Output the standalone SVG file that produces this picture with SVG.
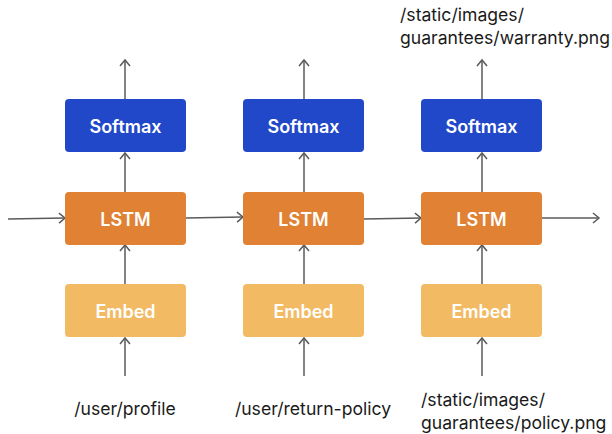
<svg xmlns="http://www.w3.org/2000/svg" width="612" height="434" viewBox="0 0 612 434">
<defs>
<marker id="ah" markerWidth="12" markerHeight="12" refX="10" refY="6" orient="auto" markerUnits="userSpaceOnUse">
<path d="M4,1 L10,6 L4,11" fill="none" stroke="#5a5a5a" stroke-width="1.5"/>
</marker>
<style>
.box{stroke:none}
.sm{fill:#2148c9}
.ls{fill:#e08133}
.em{fill:#f2ba63}
.lbl{font-family:Inter,"Liberation Sans",sans-serif;font-size:18px;font-weight:600;fill:#ffffff;text-anchor:middle;dominant-baseline:central}
.txt{font-family:Inter,"Liberation Sans",sans-serif;font-size:17.6px;fill:#1a1a1a}
.c{fill:none;stroke:#5a5a5a;stroke-width:1.5;marker-end:url(#ah)}
</style>
</defs>
<g id="connectors">
<line class="c" x1="125" y1="99" x2="125" y2="60"/>
<line class="c" x1="304" y1="99" x2="304" y2="60"/>
<line class="c" x1="482" y1="99" x2="482" y2="60"/>
<line class="c" x1="125" y1="192" x2="125" y2="153"/>
<line class="c" x1="304" y1="192" x2="304" y2="153"/>
<line class="c" x1="482" y1="192" x2="482" y2="153"/>
<line class="c" x1="125" y1="284" x2="125" y2="245"/>
<line class="c" x1="304" y1="284" x2="304" y2="245"/>
<line class="c" x1="482" y1="284" x2="482" y2="245"/>
<line class="c" x1="125" y1="376" x2="125" y2="338"/>
<line class="c" x1="304" y1="376" x2="304" y2="338"/>
<line class="c" x1="482" y1="376" x2="482" y2="338"/>
<line class="c" x1="8" y1="219" x2="65" y2="218"/>
<line class="c" x1="186" y1="218" x2="243" y2="217"/>
<line class="c" x1="364" y1="219" x2="421" y2="218"/>
<line class="c" x1="542" y1="218" x2="599" y2="218"/>
</g>
<g id="softmax1"><rect class="box sm" x="65" y="99" width="121" height="53" rx="4"/><text class="lbl" x="125.5" y="126">Softmax</text></g>
<g id="softmax2"><rect class="box sm" x="243" y="99" width="121" height="53" rx="4"/><text class="lbl" x="303.5" y="126">Softmax</text></g>
<g id="softmax3"><rect class="box sm" x="421" y="99" width="121" height="53" rx="4"/><text class="lbl" x="481.5" y="126">Softmax</text></g>
<g id="lstm1"><rect class="box ls" x="65" y="192" width="121" height="53" rx="4"/><text class="lbl" x="125.5" y="219">LSTM</text></g>
<g id="lstm2"><rect class="box ls" x="243" y="192" width="121" height="53" rx="4"/><text class="lbl" x="303.5" y="219">LSTM</text></g>
<g id="lstm3"><rect class="box ls" x="421" y="192" width="121" height="53" rx="4"/><text class="lbl" x="481.5" y="219">LSTM</text></g>
<g id="embed1"><rect class="box em" x="65" y="284" width="121" height="53" rx="4"/><text class="lbl" x="125.5" y="311">Embed</text></g>
<g id="embed2"><rect class="box em" x="243" y="284" width="121" height="53" rx="4"/><text class="lbl" x="303.5" y="311">Embed</text></g>
<g id="embed3"><rect class="box em" x="421" y="284" width="121" height="53" rx="4"/><text class="lbl" x="481.5" y="311">Embed</text></g>
<g id="out3"><text class="txt" x="400" y="21">/static/images/</text><text class="txt" x="400" y="44">guarantees/warranty.png</text></g>
<g id="in1"><text class="txt" x="125" y="415" text-anchor="middle">/user/profile</text></g>
<g id="in2"><text class="txt" x="313" y="415" text-anchor="middle">/user/return-policy</text></g>
<g id="in3"><text class="txt" x="421" y="406">/static/images/</text><text class="txt" x="421" y="429">guarantees/policy.png</text></g>
</svg>
